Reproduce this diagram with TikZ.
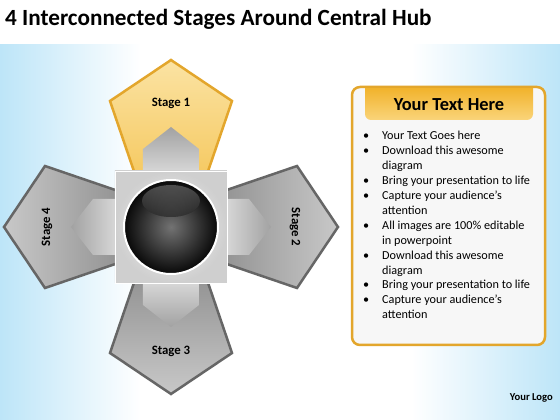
\documentclass[tikz,border=0pt]{standalone}
\usepackage{fontspec}
\setmainfont{Carlito}

\definecolor{skyb}{HTML}{BDE5F8}
\definecolor{gold}{HTML}{E3A62C}
\definecolor{lightgold}{HTML}{FBE3A3}
\definecolor{darkgold}{HTML}{F3BE45}
\definecolor{edgegrey}{HTML}{666666}
\definecolor{tipgrey}{HTML}{C8C8C8}
\definecolor{hubgrey}{HTML}{7C7C7C}
\definecolor{arrowdark}{HTML}{A2A2A2}
\definecolor{arrowlight}{HTML}{E9E9E9}
\definecolor{panelbg}{HTML}{F7F7F7}
\definecolor{headdark}{HTML}{F1B32C}
\definecolor{headlight}{HTML}{FAD47A}

\begin{document}
\begin{tikzpicture}[x=1pt,y=1pt]
\tikzstyle{yarm}=[draw=gold,line width=2.5pt,top color=lightgold,bottom color=darkgold]
\tikzstyle{garm}=[draw=edgegrey,line width=2.5pt,top color=tipgrey,bottom color=hubgrey]
\tikzstyle{inarrow}=[top color=arrowdark,bottom color=arrowlight]
\tikzstyle{stagelbl}=[font=\bfseries\fontsize{12.8}{15}\selectfont]

\useasboundingbox (-171,-193) rectangle (389,227);
\fill[white] (-171,-193) rectangle (389,227);
\shade[left color=skyb,right color=white] (-171,-193) rectangle (-30,182);
\shade[left color=white,right color=skyb] (240,-193) rectangle (389,182);
\node[anchor=base west,inner sep=0pt,font=\bfseries\fontsize{23.2}{27}\selectfont] (title) at (-166,201) {4 Interconnected Stages Around Central Hub};

\foreach \a/\r/\n/\s in {0/0/1/yarm,-90/-90/2/garm,180/0/3/garm,90/90/4/garm}{
  \begin{scope}[rotate=\a]
    \path[\s,shading angle=\a] (-18,0) -- (-61,126) -- (0,167) -- (61,126) -- (18,0) -- cycle;
    \path[inarrow,shading angle=\a] (-28,40) -- (-28,78) -- (0,100) -- (28,78) -- (28,40) -- cycle;
    \node[stagelbl,rotate=\r] (stage\n) at (0,124) {Stage \n};
  \end{scope}
}

\node[draw=white,line width=0.8pt,inner color=white!92!gray,outer color=gray!38,minimum size=112pt,inner sep=0pt] (hub) at (0,0) {};
\node[circle,draw=white,line width=2pt,inner color=black!55,outer color=black!97,minimum size=94pt,inner sep=0pt] (ball) at (0,0) {};
\fill[top color=gray!60,bottom color=black!80,opacity=0.4] (0,26) ellipse (29 and 16);

\node[draw=gold,line width=2.5pt,fill=panelbg,rounded corners=8pt,minimum width=193pt,minimum height=258pt,inner sep=0pt] (panel) at (277.5,11) {};
\shade[top color=headdark,bottom color=headlight] (194,139) [rounded corners=6pt] -- (194,107) -- (362,107) [sharp corners] -- (362,139) -- cycle;
\node[font=\bfseries\fontsize{18.4}{22}\selectfont] (head) at (278,122) {Your Text Here};
\node[anchor=base west,inner sep=0pt,font=\fontsize{12.2}{14.9}\selectfont] (items) at (192,87) {%
  \begin{tabular}[t]{@{}p{19pt}@{}l@{}}
  • & Your Text Goes here\\
  • & Download this awesome\\
    & diagram\\
  • & Bring your presentation to life\\
  • & Capture your audience’s\\
    & attention\\
  • & All images are 100\% editable\\
    & in powerpoint\\
  • & Download this awesome\\
    & diagram\\
  • & Bring your presentation to life\\
  • & Capture your audience’s\\
    & attention
  \end{tabular}};

\node[anchor=base east,inner sep=0pt,font=\bfseries\fontsize{10.6}{12}\selectfont] (logo) at (382,-174) {Your Logo};
\end{tikzpicture}
\end{document}
